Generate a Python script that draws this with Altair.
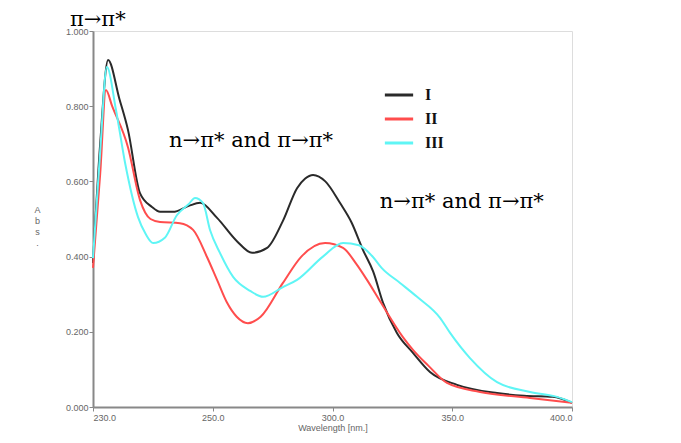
import altair as alt
import pandas as pd

# Spectrum I (black)
wl_I = [200, 203, 206.3, 211, 214.6, 219.6, 224.6, 228.0, 233.4, 240, 244.7, 251.8, 260.1,
        266.4, 272.7, 279.3, 285.2, 288.5, 291.9, 297, 303.1, 308, 312.7, 317, 321.1, 326.9, 333.6, 340.7,
        352, 368.7, 380, 392, 400]
abs_I = [0.383, 0.70, 0.923, 0.82, 0.737, 0.569, 0.532, 0.519, 0.519, 0.535, 0.543, 0.503, 0.441,
         0.410, 0.423, 0.495, 0.582, 0.607, 0.617, 0.60, 0.543, 0.49, 0.418, 0.36, 0.277, 0.197, 0.144, 0.093,
         0.059, 0.037, 0.03, 0.027, 0.011]

# Spectrum II (red)
wl_II = [200, 203, 205.4, 208, 214.6, 219.6, 224, 228.0, 236.3, 241.8, 247.6, 251.8, 256.0, 260, 264.7,
         270, 279.3, 287, 296.9, 304.4, 310, 314.4, 320, 329.4, 333.6, 340, 347.8, 361.6, 382.5, 400]
abs_II = [0.37, 0.62, 0.843, 0.80, 0.691, 0.551, 0.50, 0.492, 0.489, 0.471, 0.399, 0.338, 0.277, 0.24, 0.223,
          0.24, 0.330, 0.40, 0.436, 0.423, 0.38, 0.338, 0.28, 0.186, 0.152, 0.11, 0.064, 0.040, 0.024, 0.011]

# Spectrum III (cyan)
wl_III = [200, 203, 205.8, 209.6, 213.4, 218.8, 222, 225.1, 230, 235, 240, 242.6, 245.9, 248.9, 253,
          258.5, 265.6, 271.0, 279.3, 285.2, 296, 304.4, 311, 316.9, 320.5, 328.2, 335.3, 344.9, 349.1,
          357.4, 368.7, 382.5, 393.7, 400]
abs_III = [0.396, 0.68, 0.904, 0.79, 0.649, 0.505, 0.46, 0.436, 0.45, 0.51, 0.54, 0.556, 0.543, 0.47, 0.41,
           0.346, 0.309, 0.293, 0.319, 0.338, 0.40, 0.436, 0.43, 0.399, 0.37, 0.33, 0.293, 0.237, 0.197,
           0.130, 0.066, 0.040, 0.027, 0.013]

series_names = ["I", "II", "III"]
series_colors = ["#2a2a2a", "#ff4d4d", "#5ff5f5"]

x_ticks = [200, 250, 300, 350, 400]
y_ticks = [0.0, 0.2, 0.4, 0.6, 0.8, 1.0]

ann_text = ["π→π*", "n→π* and π→π*", "n→π* and π→π*"]
ann_x = [202.0, 266.0, 354.0]
ann_y = [1.030, 0.707, 0.545]

rows = []
for name, wl, ab in [("I", wl_I, abs_I), ("II", wl_II, abs_II), ("III", wl_III, abs_III)]:
    for w, a in zip(wl, ab):
        rows.append({"wl": w, "abs": a, "series": name})
df = pd.DataFrame(rows)
ann = pd.DataFrame({"t": ann_text, "x": ann_x, "y": ann_y})

xscale = alt.Scale(domain=[200, 400], nice=False, zero=False)
yscale = alt.Scale(domain=[0, 1.0], nice=False)

lines = alt.Chart(df).mark_line(strokeWidth=2, interpolate="monotone").encode(
    x=alt.X("wl:Q", scale=xscale,
            axis=alt.Axis(values=x_ticks, title="Wavelength [nm.]",
                          labelExpr="datum.value == 200 ? '230.0' : format(datum.value, '.1f')",
                          labelFontSize=9, labelColor="#666", titleFontSize=9, titleColor="#666",
                          titleFontWeight="normal", titlePadding=1, grid=False,
                          domainColor="#888", domainWidth=2, tickColor="#888", tickSize=4,
                          labelFont="Arial", titleFont="Arial")),
    y=alt.Y("abs:Q", scale=yscale,
            axis=alt.Axis(values=y_ticks, format=".3f", title=["A", "b", "s", "."],
                          titleAngle=0, titleAlign="center", titleBaseline="middle",
                          titleX=-56, titleY=178, titleFontSize=9, titleColor="#666",
                          titleFontWeight="normal", titleLineHeight=11,
                          labelFontSize=9, labelColor="#666", labelPadding=1, grid=False,
                          domainColor="#888", domainWidth=2, tickColor="#888", tickSize=4,
                          labelFont="Arial", titleFont="Arial")),
    color=alt.Color("series:N", scale=alt.Scale(domain=series_names, range=series_colors),
                    legend=alt.Legend(title=None, orient="none", legendX=290, legendY=48,
                                      symbolType="stroke", symbolSize=800, symbolStrokeWidth=3,
                                      labelFont="Liberation Serif", labelFontWeight="bold",
                                      labelFontSize=16, labelColor="#111", rowPadding=0,
                                      labelOffset=10)),
    order=alt.Order("wl:Q"),
)

texts = alt.Chart(ann).mark_text(font="DejaVu Serif", fontSize=21, color="#000",
                                 align="center", baseline="middle").encode(
    x=alt.X("x:Q", scale=xscale), y=alt.Y("y:Q", scale=yscale), text="t:N")

chart = alt.layer(lines, texts).properties(
    width=479, height=376,
    autosize=alt.AutoSizeParams(type="none"),
    padding={"left": 85, "top": 23, "right": 10, "bottom": 30},
).configure_view(stroke="#888", strokeWidth=2).configure(background="white")

chart.save("out.html", embed_options={"renderer": "svg", "actions": False})
